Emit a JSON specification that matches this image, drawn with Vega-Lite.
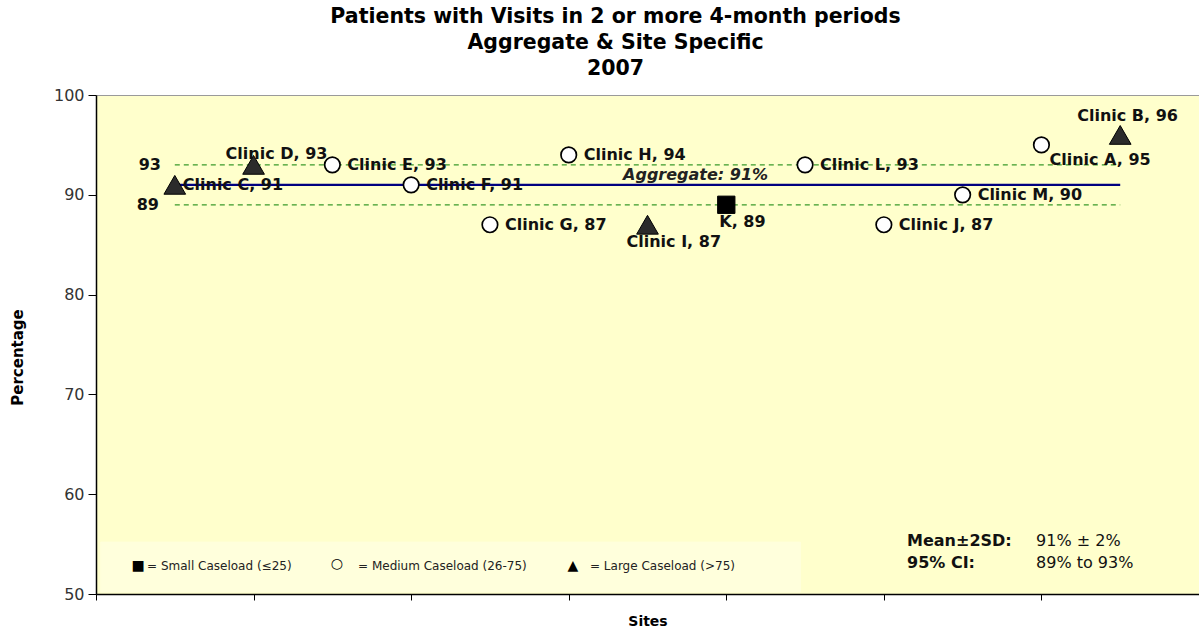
{
  "$schema": "https://vega.github.io/schema/vega-lite/v6.json",
  "width": 1103,
  "height": 499,
  "autosize": {"type": "none"},
  "padding": {"left": 96, "top": 95, "right": 0, "bottom": 40},
  "background": "white",
  "config": {
    "view": {"fill": "#FFFFCC", "stroke": "#9a9a9a", "strokeWidth": 1},
    "font": "DejaVu Sans"
  },
  "title": {
    "text": ["Patients with Visits in 2 or more 4-month periods", "Aggregate & Site Specific", "2007"],
    "fontSize": 20.5,
    "fontWeight": "bold",
    "font": "DejaVu Sans",
    "color": "#000000",
    "lineHeight": 26,
    "anchor": "middle",
    "dx": -32,
    "offset": 8
  },
  "data": {"values": [{}]},
  "datasets": {
    "sites": [
      {"site": "Clinic C", "pos": 0.5, "pct": 91, "caseload": "Large", "label": "Clinic C, 91"},
      {"site": "Clinic D", "pos": 1, "pct": 93, "caseload": "Large", "label": "Clinic D, 93"},
      {"site": "Clinic E", "pos": 1.5, "pct": 93, "caseload": "Medium", "label": "Clinic E, 93"},
      {"site": "Clinic F", "pos": 2, "pct": 91, "caseload": "Medium", "label": "Clinic F, 91"},
      {"site": "Clinic G", "pos": 2.5, "pct": 87, "caseload": "Medium", "label": "Clinic G, 87"},
      {"site": "Clinic H", "pos": 3, "pct": 94, "caseload": "Medium", "label": "Clinic H, 94"},
      {"site": "Clinic I", "pos": 3.5, "pct": 87, "caseload": "Large", "label": "Clinic I, 87"},
      {"site": "K", "pos": 4, "pct": 89, "caseload": "Small", "label": "K, 89"},
      {"site": "Clinic L", "pos": 4.5, "pct": 93, "caseload": "Medium", "label": "Clinic L, 93"},
      {"site": "Clinic J", "pos": 5, "pct": 87, "caseload": "Medium", "label": "Clinic J, 87"},
      {"site": "Clinic M", "pos": 5.5, "pct": 90, "caseload": "Medium", "label": "Clinic M, 90"},
      {"site": "Clinic A", "pos": 6, "pct": 95, "caseload": "Medium", "label": "Clinic A, 95"},
      {"site": "Clinic B", "pos": 6.5, "pct": 96, "caseload": "Large", "label": "Clinic B, 96"}
    ]
  },
  "layer": [
    {
      "mark": {"type": "rect", "fill": "#FFFFDC", "stroke": "#FFFFDC"},
      "encoding": {
        "x": {"datum": 0.03, "type": "quantitative"},
        "x2": {"datum": 4.47},
        "y": {"datum": 50.2, "type": "quantitative"},
        "y2": {"datum": 55.2}
      }
    },
    {
      "mark": {"type": "rule", "color": "#3a9a2a", "strokeWidth": 1.3, "strokeDash": [5, 4]},
      "encoding": {
        "x": {"datum": 0.5, "type": "quantitative"},
        "x2": {"datum": 6.5},
        "y": {"datum": 93, "type": "quantitative"}
      }
    },
    {
      "mark": {"type": "rule", "color": "#3a9a2a", "strokeWidth": 1.3, "strokeDash": [5, 4]},
      "encoding": {
        "x": {"datum": 0.5, "type": "quantitative"},
        "x2": {"datum": 6.5},
        "y": {"datum": 89, "type": "quantitative"}
      }
    },
    {
      "mark": {"type": "rule", "color": "#000080", "strokeWidth": 2.2},
      "encoding": {
        "x": {"datum": 0.5, "type": "quantitative"},
        "x2": {"datum": 6.5},
        "y": {"datum": 91, "type": "quantitative"}
      }
    },
    {
      "data": {"name": "sites"},
      "transform": [{"filter": {"field": "caseload", "equal": "Medium"}}],
      "mark": {"type": "point", "shape": "circle", "filled": true, "fill": "#ffffff", "stroke": "#000000", "strokeWidth": 1.7, "size": 240, "opacity": 1},
      "encoding": {
        "x": {
          "field": "pos", "type": "quantitative",
          "scale": {"domain": [0, 7], "nice": false, "zero": false},
          "axis": {
            "values": [0, 1, 2, 3, 4, 5, 6, 7], "labels": false, "grid": false,
            "tickSize": 6, "tickColor": "#000", "domainColor": "#000", "domainWidth": 1.5,
            "title": "Sites", "titleFontSize": 14, "titleFontWeight": "bold", "titleColor": "#000",
            "titleFont": "DejaVu Sans", "titlePadding": 14
          }
        },
        "y": {
          "field": "pct", "type": "quantitative",
          "scale": {"domain": [50, 100], "nice": false, "zero": false},
          "axis": {
            "values": [50, 60, 70, 80, 90, 100], "grid": false,
            "tickSize": 8, "tickColor": "#000", "domainColor": "#000", "domainWidth": 1.5,
            "labelFont": "DejaVu Sans", "labelFontSize": 16, "labelColor": "#333", "labelPadding": 4,
            "title": "Percentage", "titleFontSize": 15, "titleFontWeight": "bold", "titleColor": "#000",
            "titleFont": "DejaVu Sans",
            "titleX": -79, "titleY": 262, "titleAlign": "center", "titleBaseline": "middle"
          }
        }
      }
    },
    {
      "data": {"name": "sites"},
      "transform": [{"filter": {"field": "caseload", "equal": "Small"}}],
      "mark": {"type": "square", "filled": true, "fill": "#000000", "stroke": "#000000", "strokeWidth": 1, "size": 300, "opacity": 1},
      "encoding": {"x": {"field": "pos", "type": "quantitative"}, "y": {"field": "pct", "type": "quantitative"}}
    },
    {
      "data": {"name": "sites"},
      "transform": [{"filter": {"field": "caseload", "equal": "Large"}}],
      "mark": {"type": "point", "shape": "triangle-up", "filled": true, "fill": "#2b2b2b", "stroke": "#000000", "strokeWidth": 1, "size": 470, "opacity": 1},
      "encoding": {"x": {"field": "pos", "type": "quantitative"}, "y": {"field": "pct", "type": "quantitative"}}
    },
    {
      "data": {"name": "sites"},
      "transform": [{"filter": {"field": "site", "oneOf": ["Clinic E", "Clinic F", "Clinic G", "Clinic H", "Clinic L", "Clinic J", "Clinic M"]}}],
      "mark": {"type": "text", "align": "left", "baseline": "middle", "dx": 15, "fontSize": 16, "fontWeight": "bold", "color": "#111"},
      "encoding": {"x": {"field": "pos", "type": "quantitative"}, "y": {"field": "pct", "type": "quantitative"}, "text": {"field": "label"}}
    },
    {
      "data": {"name": "sites"},
      "transform": [{"filter": {"field": "site", "equal": "Clinic C"}}],
      "mark": {"type": "text", "align": "left", "baseline": "middle", "dx": 8, "fontSize": 16, "fontWeight": "bold", "color": "#111"},
      "encoding": {"x": {"field": "pos", "type": "quantitative"}, "y": {"field": "pct", "type": "quantitative"}, "text": {"field": "label"}}
    },
    {
      "data": {"name": "sites"},
      "transform": [{"filter": {"field": "site", "equal": "Clinic D"}}],
      "mark": {"type": "text", "align": "left", "baseline": "middle", "dx": -28, "dy": -11, "fontSize": 16, "fontWeight": "bold", "color": "#111"},
      "encoding": {"x": {"field": "pos", "type": "quantitative"}, "y": {"field": "pct", "type": "quantitative"}, "text": {"field": "label"}}
    },
    {
      "data": {"name": "sites"},
      "transform": [{"filter": {"field": "site", "equal": "Clinic B"}}],
      "mark": {"type": "text", "align": "left", "baseline": "middle", "dx": -43, "dy": -19, "fontSize": 16, "fontWeight": "bold", "color": "#111"},
      "encoding": {"x": {"field": "pos", "type": "quantitative"}, "y": {"field": "pct", "type": "quantitative"}, "text": {"field": "label"}}
    },
    {
      "data": {"name": "sites"},
      "transform": [{"filter": {"field": "site", "equal": "Clinic I"}}],
      "mark": {"type": "text", "align": "left", "baseline": "middle", "dx": -21, "dy": 17, "fontSize": 16, "fontWeight": "bold", "color": "#111"},
      "encoding": {"x": {"field": "pos", "type": "quantitative"}, "y": {"field": "pct", "type": "quantitative"}, "text": {"field": "label"}}
    },
    {
      "data": {"name": "sites"},
      "transform": [{"filter": {"field": "site", "equal": "K"}}],
      "mark": {"type": "text", "align": "left", "baseline": "middle", "dx": -7, "dy": 17, "fontSize": 16, "fontWeight": "bold", "color": "#111"},
      "encoding": {"x": {"field": "pos", "type": "quantitative"}, "y": {"field": "pct", "type": "quantitative"}, "text": {"field": "label"}}
    },
    {
      "data": {"name": "sites"},
      "transform": [{"filter": {"field": "site", "equal": "Clinic A"}}],
      "mark": {"type": "text", "align": "left", "baseline": "middle", "dx": 8, "dy": 15, "fontSize": 16, "fontWeight": "bold", "color": "#111"},
      "encoding": {"x": {"field": "pos", "type": "quantitative"}, "y": {"field": "pct", "type": "quantitative"}, "text": {"field": "label"}}
    },
    {
      "mark": {"type": "text", "align": "left", "baseline": "middle", "dy": -10, "fontSize": 16, "fontWeight": "bold", "fontStyle": "italic", "color": "#222"},
      "encoding": {"x": {"datum": 3.345, "type": "quantitative"}, "y": {"datum": 91, "type": "quantitative"}, "text": {"value": "Aggregate: 91%"}}
    },
    {
      "mark": {"type": "text", "align": "center", "baseline": "middle", "dx": -25, "fontSize": 16, "fontWeight": "bold", "color": "#111"},
      "encoding": {"x": {"datum": 0.5, "type": "quantitative"}, "y": {"datum": 93, "type": "quantitative"}, "text": {"value": "93"}}
    },
    {
      "mark": {"type": "text", "align": "center", "baseline": "middle", "dx": -27, "fontSize": 16, "fontWeight": "bold", "color": "#111"},
      "encoding": {"x": {"datum": 0.5, "type": "quantitative"}, "y": {"datum": 89, "type": "quantitative"}, "text": {"value": "89"}}
    },
    {
      "mark": {"type": "text", "align": "left", "baseline": "middle", "fontSize": 16, "fontWeight": "bold", "color": "#111"},
      "encoding": {"x": {"datum": 5.147, "type": "quantitative"}, "y": {"datum": 55.3, "type": "quantitative"}, "text": {"value": "Mean±2SD:"}}
    },
    {
      "mark": {"type": "text", "align": "left", "baseline": "middle", "fontSize": 16, "color": "#111"},
      "encoding": {"x": {"datum": 5.966, "type": "quantitative"}, "y": {"datum": 55.3, "type": "quantitative"}, "text": {"value": "91% ± 2%"}}
    },
    {
      "mark": {"type": "text", "align": "left", "baseline": "middle", "fontSize": 16, "fontWeight": "bold", "color": "#111"},
      "encoding": {"x": {"datum": 5.147, "type": "quantitative"}, "y": {"datum": 53.1, "type": "quantitative"}, "text": {"value": "95% CI:"}}
    },
    {
      "mark": {"type": "text", "align": "left", "baseline": "middle", "fontSize": 16, "color": "#111"},
      "encoding": {"x": {"datum": 5.966, "type": "quantitative"}, "y": {"datum": 53.1, "type": "quantitative"}, "text": {"value": "89% to 93%"}}
    },
    {
      "mark": {"type": "text", "align": "center", "baseline": "middle", "fontSize": 14, "color": "#000"},
      "encoding": {"x": {"datum": 0.267, "type": "quantitative"}, "y": {"datum": 52.8, "type": "quantitative"}, "text": {"value": "■"}}
    },
    {
      "mark": {"type": "text", "align": "center", "baseline": "middle", "dy": -2, "fontSize": 14, "color": "#000"},
      "encoding": {"x": {"datum": 1.529, "type": "quantitative"}, "y": {"datum": 52.8, "type": "quantitative"}, "text": {"value": "○"}}
    },
    {
      "mark": {"type": "text", "align": "center", "baseline": "middle", "fontSize": 14, "color": "#000"},
      "encoding": {"x": {"datum": 3.027, "type": "quantitative"}, "y": {"datum": 52.8, "type": "quantitative"}, "text": {"value": "▲"}}
    },
    {
      "mark": {"type": "text", "align": "left", "baseline": "middle", "fontSize": 12, "color": "#222"},
      "encoding": {"x": {"datum": 0.324, "type": "quantitative"}, "y": {"datum": 52.8, "type": "quantitative"}, "text": {"value": "= Small Caseload (≤25)"}}
    },
    {
      "mark": {"type": "text", "align": "left", "baseline": "middle", "fontSize": 12, "color": "#222"},
      "encoding": {"x": {"datum": 1.663, "type": "quantitative"}, "y": {"datum": 52.8, "type": "quantitative"}, "text": {"value": "= Medium Caseload  (26-75)"}}
    },
    {
      "mark": {"type": "text", "align": "left", "baseline": "middle", "fontSize": 12, "color": "#222"},
      "encoding": {"x": {"datum": 3.135, "type": "quantitative"}, "y": {"datum": 52.8, "type": "quantitative"}, "text": {"value": "= Large Caseload (>75)"}}
    }
  ]
}
